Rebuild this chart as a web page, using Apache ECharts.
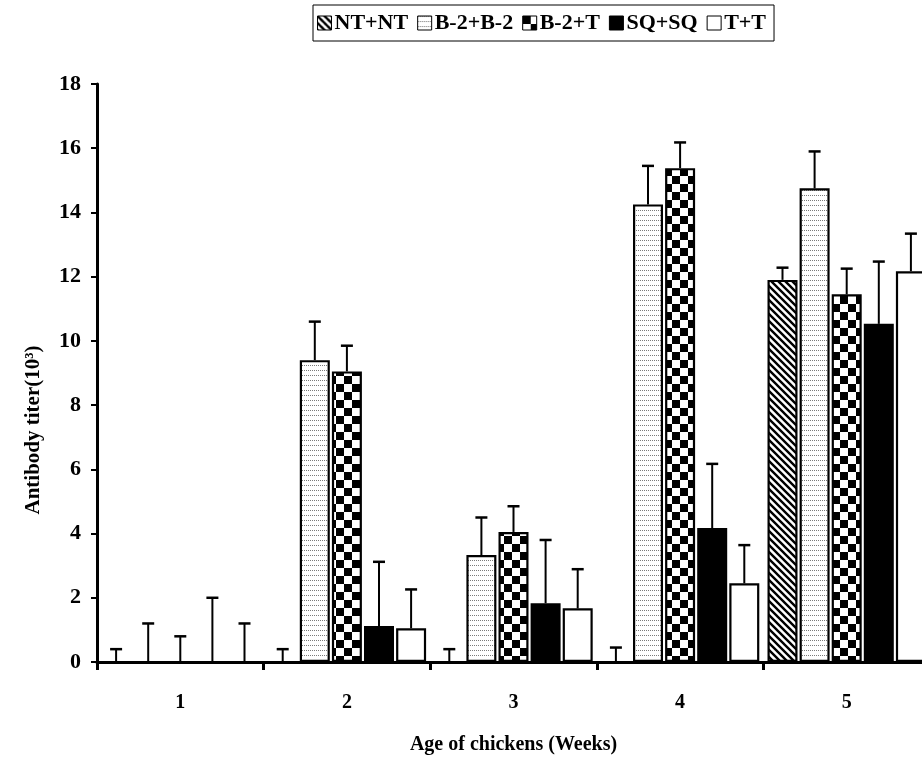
<!DOCTYPE html>
<html>
<head>
<meta charset="utf-8">
<script src="https://cdn.jsdelivr.net/npm/echarts@6/dist/echarts.min.js"></script>
<style>
html,body{margin:0;padding:0;background:#fff;}
#chart{width:922px;height:765px;}
</style>
</head>
<body>
<div id="chart"></div>
<script>
// ---- data ----
const categories = ['1', '2', '3', '4', '5'];
const seriesNames = ['NT+NT', 'B-2+B-2', 'B-2+T', 'SQ+SQ', 'T+T'];
const ntnt    = [0, 0, 0, 0, 11.9];
const ntntErr = [0.4, 0.4, 0.4, 0.45, 0.38];
const b2b2    = [0, 9.4, 3.33, 14.25, 14.75];
const b2b2Err = [1.2, 1.2, 1.17, 1.2, 1.15];
const b2t     = [0, 9.05, 4.05, 15.38, 11.45];
const b2tErr  = [0.8, 0.8, 0.8, 0.8, 0.8];
const sqsq    = [0, 1.12, 1.83, 4.17, 10.53];
const sqsqErr = [2.0, 2.0, 1.97, 2.0, 1.94];
const tt      = [0, 1.05, 1.67, 2.45, 12.17];
const ttErr   = [1.2, 1.21, 1.22, 1.19, 1.17];
const yTicks = {min: 0, max: 18, interval: 2};
const xTitle = 'Age of chickens (Weeks)';
const yTitle = 'Antibody titer(10³)';

// ---- patterns ----
function makeCanvas(w, h, draw) {
  const c = document.createElement('canvas');
  c.width = w; c.height = h;
  const ctx = c.getContext('2d');
  ctx.fillStyle = '#fff'; ctx.fillRect(0, 0, w, h);
  draw(ctx, w, h);
  return c;
}
const hatch = makeCanvas(7, 7, (ctx, w, h) => {
  ctx.strokeStyle = '#000'; ctx.lineWidth = 2.4;
  ctx.beginPath();
  ctx.moveTo(-w, -h); ctx.lineTo(2 * w, 2 * h);
  ctx.moveTo(-w, 0); ctx.lineTo(w, 2 * h);
  ctx.moveTo(0, -h); ctx.lineTo(2 * w, h);
  ctx.stroke();
});
const dotted = makeCanvas(4, 5, (ctx) => {
  ctx.fillStyle = '#7a7a7a';
  ctx.fillRect(0, 0, 1, 1);
  ctx.fillRect(2, 0, 1, 1);
});
const checker = makeCanvas(16, 16, (ctx) => {
  ctx.fillStyle = '#000';
  ctx.fillRect(0, 0, 8, 8);
  ctx.fillRect(8, 8, 8, 8);
});
const fills = [
  {image: hatch, repeat: 'repeat'},
  {image: dotted, repeat: 'repeat'},
  {image: checker, repeat: 'repeat'},
  '#000',
  '#fff'
];
const values = [ntnt, b2b2, b2t, sqsq, tt];
const errs = [ntntErr, b2b2Err, b2tErr, sqsqErr, ttErr];

const BAR_W = 30;
const BAR_GAP = 0.07;
const FONT = '"Liberation Serif", "Times New Roman", serif';

const series = [];
values.forEach((vals, i) => {
  series.push({
    name: seriesNames[i],
    type: 'bar',
    data: vals,
    barWidth: BAR_W,
    barGap: (BAR_GAP * 100) + '%',
    itemStyle: {color: fills[i], borderColor: '#000', borderWidth: 2.2},
    emphasis: {disabled: true},
    z: 2
  });
});
values.forEach((vals, i) => {
  const step = BAR_W * (1 + BAR_GAP);
  const offset = (i - (values.length - 1) / 2) * step;
  series.push({
    type: 'custom',
    name: seriesNames[i] + ' err',
    data: vals.map((v, k) => [k, v, errs[i][k]]),
    z: 3,
    silent: true,
    renderItem: (params, api) => {
      const c = api.value(0), v = api.value(1), e = api.value(2);
      const x = api.coord([c, 0])[0] + offset;
      const y1 = api.coord([c, v])[1];
      const y2 = api.coord([c, v + e])[1];
      return {
        type: 'group',
        children: [
          {type: 'line', shape: {x1: x, y1: y1, x2: x, y2: y2}, style: {stroke: '#000', lineWidth: 2}},
          {type: 'line', shape: {x1: x - 6, y1: y2, x2: x + 6, y2: y2}, style: {stroke: '#000', lineWidth: 2.5}}
        ]
      };
    }
  });
});

const chart = echarts.init(document.getElementById('chart'), null, {renderer: 'canvas'});
chart.setOption({
  animation: false,
  backgroundColor: '#fff',
  legend: {
    data: seriesNames.map((n, i) => ({name: n, icon: 'rect', itemStyle: {color: fills[i], borderColor: '#000', borderWidth: 1}})),
    top: 5,
    left: 313,
    itemWidth: 14,
    itemHeight: 14,
    itemGap: 9,
    borderColor: '#000',
    borderWidth: 1,
    padding: [7, 8, 7, 4],
    selectedMode: false,
    textStyle: {fontFamily: FONT, fontWeight: 'bold', fontSize: 22, color: '#000', padding: [0, 0, 0, -2]}
  },
  grid: {left: 97, width: 833, top: 84, bottom: 103, containLabel: false, outerBoundsMode: 'none'},
  xAxis: {
    type: 'category',
    data: categories,
    name: xTitle,
    nameLocation: 'middle',
    nameGap: 73,
    nameTextStyle: {fontFamily: FONT, fontWeight: 'bold', fontSize: 20, color: '#000'},
    axisLine: {lineStyle: {color: '#000', width: 3}},
    axisTick: {show: true, length: 8, lineStyle: {color: '#000', width: 3}},
    axisLabel: {fontFamily: FONT, fontWeight: 'bold', fontSize: 20, color: '#000', margin: 31}
  },
  yAxis: {
    type: 'value',
    min: yTicks.min, max: yTicks.max, interval: yTicks.interval,
    axisLine: {show: true, lineStyle: {color: '#000', width: 3}},
    axisTick: {show: true, length: 6, lineStyle: {color: '#000', width: 2}},
    axisLabel: {fontFamily: FONT, fontWeight: 'bold', fontSize: 22, color: '#000', margin: 16},
    splitLine: {show: false}
  },
  graphic: [{
    type: 'text',
    x: 34, y: 430,
    rotation: Math.PI / 2,
    style: {text: yTitle, fontFamily: FONT, fontWeight: 'bold', fontSize: 21, fill: '#000', align: 'center', verticalAlign: 'middle'}
  }],
  series: series
});
</script>
</body>
</html>
